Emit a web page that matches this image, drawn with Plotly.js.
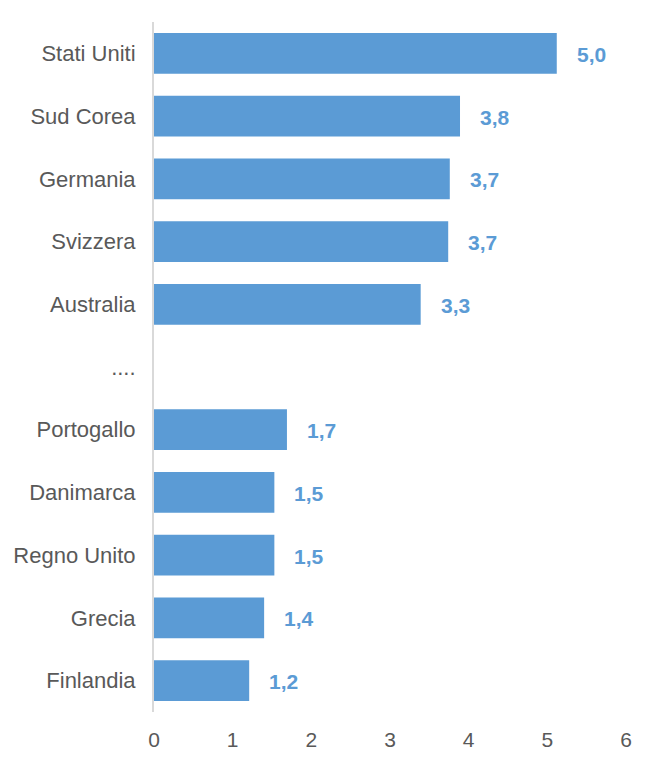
<!DOCTYPE html>
<html>
<head>
<meta charset="utf-8">
<script src="https://cdn.plot.ly/plotly-3.0.1.min.js"></script>
<style>html,body{margin:0;padding:0;background:#fff;}#chart{width:662px;height:763px;}</style>
</head>
<body>
<div id="chart"></div>
<script>
var countries = ["Stati Uniti","Sud Corea","Germania","Svizzera","Australia","....","Portogallo","Danimarca","Regno Unito","Grecia","Finlandia"];
var values = [5.12, 3.89, 3.76, 3.74, 3.39, null, 1.69, 1.53, 1.53, 1.40, 1.21];
var valueLabels = ["5,0","3,8","3,7","3,7","3,3","","1,7","1,5","1,5","1,4","1,2"];
var xTicks = [0,1,2,3,4,5,6];

var barColor = "#5b9bd5";
var annotations = [];
for (var i = 0; i < countries.length; i++) {
  if (values[i] === null) continue;
  annotations.push({
    x: values[i], y: countries[i], xref: "x", yref: "y",
    text: "<b>" + valueLabels[i] + "</b>", showarrow: false,
    xanchor: "left", xshift: 18, yshift: -1,
    font: {family: "Liberation Sans, Arial, sans-serif", size: 21, color: barColor}
  });
}

var trace = {
  type: "bar", orientation: "h",
  x: values, y: countries,
  marker: {color: barColor},
  hoverinfo: "none"
};

var layout = {
  width: 662, height: 763,
  margin: {l: 154, r: 36, t: 22, b: 51},
  paper_bgcolor: "#fff", plot_bgcolor: "#fff",
  bargap: 0.35,
  showlegend: false,
  font: {family: "Liberation Sans, Arial, sans-serif", size: 21, color: "#595959"},
  xaxis: {
    range: [0, 6], tickvals: xTicks, ticktext: xTicks.map(String),
    showgrid: false, zeroline: false, showline: false, ticks: "",
    ticklabelstandoff: 13,
    tickfont: {size: 21, color: "#595959"}
  },
  yaxis: {
    type: "category", categoryorder: "array", categoryarray: countries,
    autorange: "reversed",
    showgrid: false, zeroline: false, showline: true, linecolor: "#d9d9d9", linewidth: 2,
    ticks: "", ticklabelstandoff: 12,
    tickfont: {size: 22, color: "#595959"}
  },
  annotations: annotations
};

Plotly.newPlot("chart", [trace], layout, {displayModeBar: false, staticPlot: true});
</script>
</body>
</html>
